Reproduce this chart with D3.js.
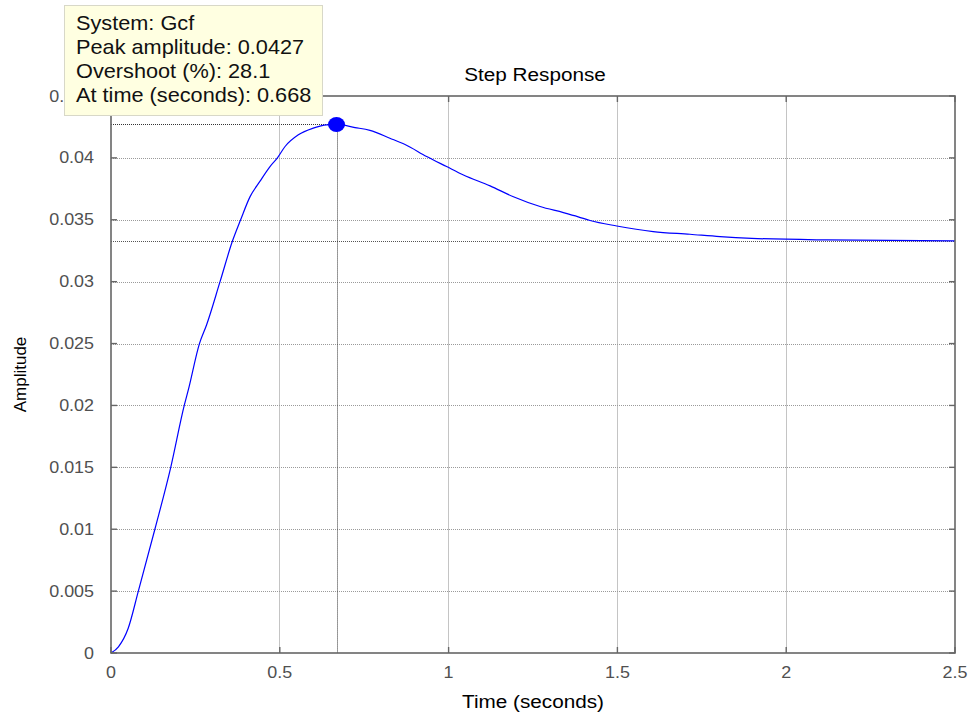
<!DOCTYPE html>
<html>
<head>
<meta charset="utf-8">
<script src="https://cdn.jsdelivr.net/npm/d3@7"></script>
<style>
  html, body { margin: 0; padding: 0; background: #fff; }
  svg { display: block; font-family: "Liberation Sans", Arial, sans-serif; }
</style>
</head>
<body>
<svg id="chart" width="971" height="714"></svg>
<script>
// Step response of Gcf (time in seconds, amplitude)
const time = [0, 0.022, 0.051, 0.081, 0.130, 0.177, 0.217, 0.229, 0.262, 0.283, 0.323, 0.360,
  0.384, 0.412, 0.441, 0.471, 0.493, 0.515, 0.555, 0.599, 0.639, 0.668, 0.723, 0.767, 0.826,
  0.871, 0.935, 0.994, 1.044, 1.123, 1.192, 1.271, 1.340, 1.384, 1.419, 1.498, 1.606, 1.715,
  1.804, 1.898, 2.12, 2.5];
const amplitude = [0, 0.0005, 0.002, 0.005, 0.010, 0.015, 0.020, 0.02125, 0.025, 0.0265, 0.030,
  0.0333, 0.035, 0.03687, 0.0381, 0.0393, 0.040, 0.0409, 0.04186, 0.0424, 0.04267, 0.0427,
  0.04245, 0.04222, 0.04159, 0.04108, 0.04011, 0.0393, 0.03862, 0.03774, 0.03686, 0.03607,
  0.03558, 0.03524, 0.03494, 0.0345, 0.03405, 0.03383, 0.03364, 0.0335, 0.03337, 0.0333];

// Peak and final value characteristics
const peakTime = 0.668;
const peakAmplitude = 0.0427;
const finalValue = 0.0333;
const overshoot = 28.1;

const xTicks = [0, 0.5, 1, 1.5, 2, 2.5];
const xTickLabels = ["0", "0.5", "1", "1.5", "2", "2.5"];
const yTicks = [0, 0.005, 0.01, 0.015, 0.02, 0.025, 0.03, 0.035, 0.04, 0.045];
const yTickLabels = ["0", "0.005", "0.01", "0.015", "0.02", "0.025", "0.03", "0.035", "0.04", "0.045"];

const tipLines = [
  "System: Gcf",
  "Peak amplitude: " + peakAmplitude,
  "Overshoot (%): " + overshoot,
  "At time (seconds): " + peakTime
];

const svg = d3.select("#chart");
const L = 111, R = 955, T = 96, B = 653;
const sx = 1.12; // horizontal text stretch

const x = d3.scaleLinear().domain([0, 2.5]).range([L, R]);
const y = d3.scaleLinear().domain([0, 0.045]).range([B, T]);

function stretchedText(g, px, py, str, opts) {
  return g.append("text")
    .attr("transform", `translate(${px},${py}) scale(${opts.s || sx},1)`)
    .attr("text-anchor", opts.anchor || "start")
    .attr("font-size", opts.size)
    .attr("fill", opts.fill || "#000")
    .text(str);
}

// grid
const grid = svg.append("g");
grid.selectAll("line.gx").data(xTicks.slice(1, -1)).join("line")
  .attr("x1", d => x(d)).attr("x2", d => x(d)).attr("y1", T).attr("y2", B)
  .attr("stroke", "#c4c4c4").attr("stroke-width", 1).attr("shape-rendering", "crispEdges");
grid.selectAll("line.gy").data(yTicks.slice(1, -1)).join("line")
  .attr("x1", L).attr("x2", R).attr("y1", d => Math.round(y(d)) + 0.5).attr("y2", d => Math.round(y(d)) + 0.5)
  .attr("stroke", "#9a9a9a").attr("stroke-width", 1).attr("stroke-dasharray", "1,1");

// final value line
svg.append("line")
  .attr("x1", L).attr("x2", R).attr("y1", Math.round(y(finalValue)) + 0.5).attr("y2", Math.round(y(finalValue)) + 0.5)
  .attr("stroke", "#555").attr("stroke-width", 1).attr("stroke-dasharray", "1,1");

// peak reference lines
svg.append("line")
  .attr("x1", L).attr("x2", x(peakTime)).attr("y1", Math.round(y(peakAmplitude)) + 0.5).attr("y2", Math.round(y(peakAmplitude)) + 0.5)
  .attr("stroke", "#333").attr("stroke-width", 1).attr("stroke-dasharray", "1,1");
svg.append("line")
  .attr("x1", Math.round(x(peakTime)) + 0.5).attr("x2", Math.round(x(peakTime)) + 0.5).attr("y1", y(peakAmplitude)).attr("y2", B)
  .attr("stroke", "#333").attr("stroke-width", 1).attr("stroke-dasharray", "1,1");

// response curve
const pts = time.map((t, i) => [t, amplitude[i]]);
svg.append("path")
  .datum(pts)
  .attr("fill", "none")
  .attr("stroke", "#0000ff")
  .attr("stroke-width", 1.2)
  .attr("d", d3.line().x(d => x(d[0])).y(d => y(d[1])).curve(d3.curveMonotoneX));

// axes box and inward ticks
const axisColor = "#666";
svg.append("rect").attr("x", L).attr("y", T).attr("width", R - L).attr("height", B - T)
  .attr("fill", "none").attr("stroke", axisColor).attr("stroke-width", 1.6);
const tl = 6;
const ticks = svg.append("g").attr("stroke", axisColor).attr("stroke-width", 1.4);
xTicks.forEach(v => {
  ticks.append("line").attr("x1", x(v)).attr("x2", x(v)).attr("y1", B).attr("y2", B - tl);
  ticks.append("line").attr("x1", x(v)).attr("x2", x(v)).attr("y1", T).attr("y2", T + tl);
});
yTicks.forEach(v => {
  ticks.append("line").attr("x1", L).attr("x2", L + tl).attr("y1", y(v)).attr("y2", y(v));
  ticks.append("line").attr("x1", R).attr("x2", R - tl).attr("y1", y(v)).attr("y2", y(v));
});

// tick labels
const lab = svg.append("g");
xTicks.forEach((v, i) => stretchedText(lab, x(v), 678, xTickLabels[i], { anchor: "middle", size: 16, fill: "#505050" }));
yTicks.forEach((v, i) => stretchedText(lab, 94, y(v) + 5.5, yTickLabels[i], { anchor: "end", size: 16, fill: "#505050" }));

// title and axis labels
stretchedText(svg, (L + R) / 2 + 2, 81, "Step Response", { anchor: "middle", size: 18.5 });
stretchedText(svg, (L + R) / 2, 708, "Time (seconds)", { anchor: "middle", size: 18.5 });
svg.append("text")
  .attr("transform", `translate(26,${(T + B) / 2}) rotate(-90)`)
  .attr("text-anchor", "middle").attr("font-size", 17).attr("fill", "#000")
  .text("Amplitude");

// peak marker
svg.append("ellipse")
  .attr("cx", x(peakTime)).attr("cy", y(peakAmplitude)).attr("rx", 8.5).attr("ry", 7.5)
  .attr("fill", "#0000ff");

// data tip
const tip = svg.append("g");
tip.append("rect").attr("x", 64.5).attr("y", 5.5).attr("width", 258).attr("height", 110)
  .attr("fill", "#ffffe1").attr("stroke", "#d8d8c8").attr("stroke-width", 1);
tipLines.forEach((s, i) => stretchedText(tip, 76, 30 + i * 24, s, { size: 19.4, fill: "#111" }));
</script>
</body>
</html>
